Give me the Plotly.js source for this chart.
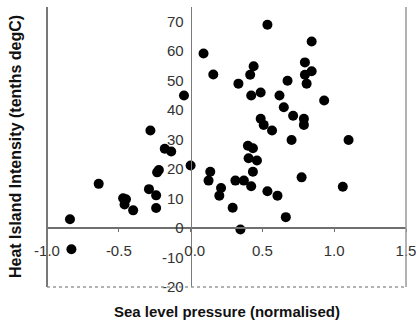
<!DOCTYPE html>
<html>
<head>
<meta charset="utf-8">
<script src="https://cdn.plot.ly/plotly-3.0.1.min.js"></script>
<style>
  html, body { margin: 0; padding: 0; background: #fff; }
  #chart { width: 416px; height: 323px; }
</style>
</head>
<body>
<div id="chart"></div>
<script>
// Sea level pressure (normalised) vs Heat Island Intensity (tenths degC)
const pressure = [
  -0.84, -0.83, -0.64, -0.47, -0.45, -0.46, -0.40, -0.29, -0.24, -0.24,
  -0.233, -0.221, -0.18, -0.135, -0.28, -0.046, 0.00, 0.09, 0.158, 0.333,
  0.415, 0.439, 0.535, 0.422, 0.488, 0.619, 0.675, 0.843, 0.796, 0.796,
  0.843, 0.808, 0.93, 0.649, 0.714, 0.488, 0.509, 0.567, 0.703, 0.399,
  0.434, 0.404, 0.462, 0.434, 0.137, 0.125, 0.312, 0.371, 0.212, 0.20,
  0.422, 0.535, 0.605, 0.293, 0.663, 0.347, 0.789, 0.789, 1.10, 0.773,
  1.06
];
const intensity = [
  3, -7.2, 15, 10.1, 9.8, 8, 6, 13.2, 11.1, 6.8,
  18.9, 19.7, 26.9, 26.0, 33.1, 45, 21.2, 59.2, 52.1, 49.0,
  52.0, 54.9, 69.0, 45.0, 46.0, 45.0, 50.0, 63.3, 56.2, 52.0,
  53.2, 49.0, 43.3, 41.0, 38.1, 37.1, 35.0, 33.1, 29.9, 27.9,
  27.1, 23.7, 22.9, 19.1, 19.1, 16.1, 16.1, 16.1, 13.6, 11.0,
  14.2, 12.5, 11.0, 6.9, 3.7, -0.5, 37.1, 35.0, 29.9, 17.2,
  14.0
];
const xTicks = [-1.0, -0.5, 0.0, 0.5, 1.0, 1.5];
const xTickLabels = ['-1.0', '-0.5', '\u00a0\u00a00.0', '0.5', '1.0', '1.5'];
const yTicks = [-20, -10, 0, 10, 20, 30, 40, 50, 60, 70];
const yTickLabels = ['-20', '-10', '0', '10', '20', '30', '40', '50', '60', '70'];
const xTitle = 'Sea level pressure (normalised)';
const yTitle = 'Heat Island Intensity (tenths degC)';

const xRange = [-1.0, 1.5];
const yRange = [-20, 75];

const trace = {
  type: 'scatter',
  mode: 'markers',
  x: pressure,
  y: intensity,
  marker: { color: '#000', size: 10, line: { width: 0 } },
  hoverinfo: 'x+y'
};

const font = { family: 'Arial, "Liberation Sans", sans-serif', color: '#222' };
const yPos = (0 - xRange[0]) / (xRange[1] - xRange[0]);

const layout = {
  width: 416,
  height: 323,
  margin: { l: 47, r: 10, t: 7, b: 36 },
  paper_bgcolor: '#fff',
  plot_bgcolor: '#fff',
  showlegend: false,
  font: font,
  xaxis: {
    range: xRange,
    tickvals: xTicks,
    ticktext: xTickLabels,
    anchor: 'free',
    position: (0 - yRange[0]) / (yRange[1] - yRange[0]),
    showgrid: false,
    zeroline: false,
    showline: true,
    linecolor: '#6f6f6f',
    linewidth: 2,
    ticks: 'outside',
    ticklen: 3,
    tickcolor: '#6f6f6f',
    ticklabelstandoff: 6,
    ticklabeloverflow: 'allow',
    tickfont: { family: font.family, size: 15, color: '#333' }
  },
  yaxis: {
    range: yRange,
    tickvals: yTicks,
    ticktext: yTickLabels,
    anchor: 'free',
    position: yPos,
    showgrid: false,
    zeroline: false,
    showline: true,
    linecolor: '#7a7a7a',
    linewidth: 1.5,
    ticks: 'outside',
    ticklen: 4,
    tickcolor: 'rgba(0,0,0,0)',
    ticklabeloverflow: 'allow',
    tickfont: { family: font.family, size: 15, color: '#333' }
  },
  yaxis2: {
    range: yRange,
    tickvals: yTicks,
    overlaying: 'y',
    anchor: 'free',
    position: yPos,
    showgrid: false,
    zeroline: false,
    showline: false,
    ticks: 'inside',
    ticklen: 3,
    tickwidth: 1.5,
    tickcolor: '#7a7a7a',
    showticklabels: false
  },
  shapes: [
    { type: 'line', xref: 'paper', yref: 'paper', x0: 0, x1: 0, y0: 0, y1: 1,
      line: { color: '#777', width: 2 } },
    { type: 'line', xref: 'paper', yref: 'paper', x0: 1, x1: 1, y0: 0, y1: 1,
      line: { color: '#999', width: 1.5 } },
    { type: 'line', xref: 'paper', yref: 'paper', x0: 0, x1: 1, y0: 0, y1: 0,
      line: { color: '#999', width: 1.5, dash: 'dot' } }
  ],
  annotations: [
    { text: '<b>' + xTitle + '</b>', xref: 'paper', yref: 'paper',
      x: 0.5, y: -0.086, xanchor: 'center', yanchor: 'middle', showarrow: false,
      font: { family: font.family, size: 15, color: '#111' } },
    { text: '<b>' + yTitle + '</b>', xref: 'paper', yref: 'paper',
      x: -0.089, y: 0.5, xanchor: 'center', yanchor: 'middle', showarrow: false,
      textangle: -90,
      font: { family: font.family, size: 16, color: '#111' } }
  ]
};

Plotly.newPlot('chart', [trace], layout, { displayModeBar: false, staticPlot: true });
</script>
</body>
</html>
